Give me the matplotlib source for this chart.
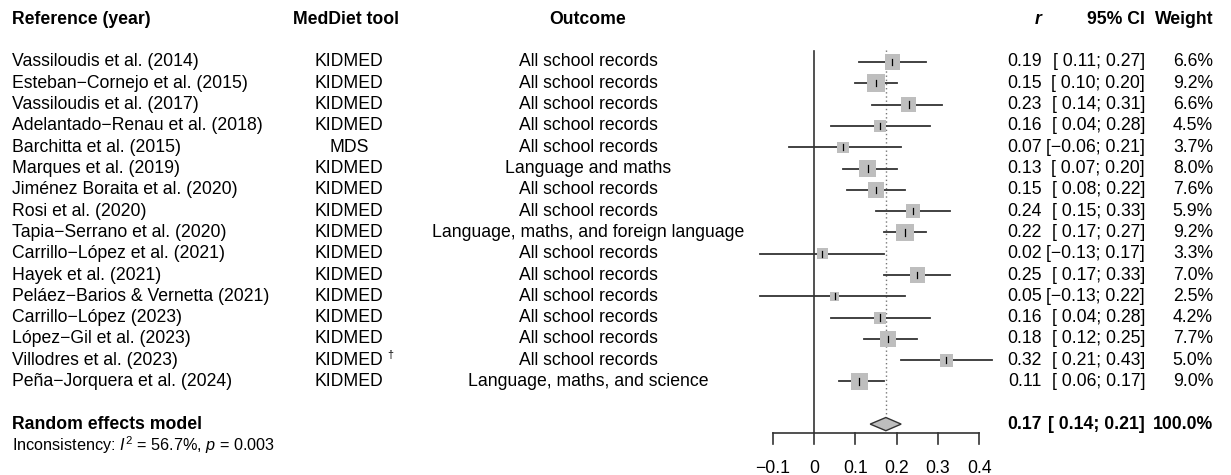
import numpy as np
import matplotlib
matplotlib.use("Agg")
import matplotlib.pyplot as plt
from matplotlib.patches import Rectangle, Polygon

plt.rcParams['font.family'] = ['Liberation Sans', 'DejaVu Sans']
plt.rcParams['mathtext.fontset'] = 'custom'
plt.rcParams['mathtext.rm'] = 'Liberation Sans'
plt.rcParams['mathtext.it'] = 'Liberation Sans:italic'
plt.rcParams['mathtext.bf'] = 'Liberation Sans:bold'

# study data
studies = ["Vassiloudis et al. (2014)", "Esteban\u2212Cornejo et al. (2015)",
           "Vassiloudis et al. (2017)", "Adelantado\u2212Renau et al. (2018)",
           "Barchitta et al. (2015)", "Marques et al. (2019)",
           "Jiménez Boraita et al. (2020)", "Rosi et al. (2020)",
           "Tapia\u2212Serrano et al. (2020)", "Carrillo\u2212López et al. (2021)",
           "Hayek et al. (2021)", "Peláez\u2212Barios & Vernetta (2021)",
           "Carrillo\u2212López (2023)", "López\u2212Gil et al. (2023)",
           "Villodres et al. (2023)", "Peña\u2212Jorquera et al. (2024)"]
tools = ["KIDMED", "KIDMED", "KIDMED", "KIDMED", "MDS", "KIDMED", "KIDMED", "KIDMED",
         "KIDMED", "KIDMED", "KIDMED", "KIDMED", "KIDMED", "KIDMED", "KIDMED", "KIDMED"]
dagger_rows = [14]
outcomes = ["All school records"] * 16
outcomes[5] = "Language and maths"
outcomes[8] = "Language, maths, and foreign language"
outcomes[15] = "Language, maths, and science"
r = [0.19, 0.15, 0.23, 0.16, 0.07, 0.13, 0.15, 0.24, 0.22, 0.02, 0.25, 0.05, 0.16, 0.18, 0.32, 0.11]
lo = [0.11, 0.10, 0.14, 0.04, -0.06, 0.07, 0.08, 0.15, 0.17, -0.13, 0.17, -0.13, 0.04, 0.12, 0.21, 0.06]
hi = [0.27, 0.20, 0.31, 0.28, 0.21, 0.20, 0.22, 0.33, 0.27, 0.17, 0.33, 0.22, 0.28, 0.25, 0.43, 0.17]
weight = [6.6, 9.2, 6.6, 4.5, 3.7, 8.0, 7.6, 5.9, 9.2, 3.3, 7.0, 2.5, 4.2, 7.7, 5.0, 9.0]

pooled_r, pooled_lo, pooled_hi = 0.174, 0.136, 0.211
pooled_label = ("0.17", "[ 0.14; 0.21]", "100.0%")
heterogeneity = r"Inconsistency: $I^2$ = 56.7%, $p$ = 0.003"
ticks = [-0.1, 0, 0.1, 0.2, 0.3, 0.4]

W, H = 1231, 475
x0_px, px_per_unit = 814, 413.0
y0_px, px_per_row = 62, 21.3

fig = plt.figure(figsize=(W / 100, H / 100), dpi=100)
ax = fig.add_axes([0, 0, 1, 1])
ax.set_xlim(-x0_px / px_per_unit, (W - x0_px) / px_per_unit)
ax.set_ylim((H - y0_px) / px_per_row, -y0_px / px_per_row)
ax.axis('off')

tr = ax.get_yaxis_transform()   # x in axes fraction, y in rows
fs = 12.7
col_ref, col_tool, col_out = 12 / W, 349 / W, 588 / W
col_r, col_ci, col_w = 1042 / W, 1145 / W, 1213 / W


def fmt(v):
    s = "%.2f" % v
    return s.replace("-", "\u2212") if v < 0 else " " + s


# headers
hy = -2
ax.text(col_ref, hy, "Reference (year)", transform=tr, ha='left', va='center', fontsize=fs, fontweight='bold')
ax.text(346 / W, hy, "MedDiet tool", transform=tr, ha='center', va='center', fontsize=fs, fontweight='bold')
ax.text(col_out, hy, "Outcome", transform=tr, ha='center', va='center', fontsize=fs, fontweight='bold')
ax.text(col_r, hy, "r", transform=tr, ha='right', va='center', fontsize=fs, fontweight='bold', fontstyle='italic')
ax.text(col_ci, hy, "95% CI", transform=tr, ha='right', va='center', fontsize=fs, fontweight='bold')
ax.text(col_w, hy, "Weight", transform=tr, ha='right', va='center', fontsize=fs, fontweight='bold')

for i in range(len(studies)):
    ax.text(col_ref, i, studies[i], transform=tr, ha='left', va='center', fontsize=fs)
    t = ax.text(col_tool, i, tools[i], transform=tr, ha='center', va='center', fontsize=fs)
    if i in dagger_rows:
        ax.annotate("\u2020", xy=(1, 1), xycoords=t, xytext=(3, 1), textcoords='offset points',
                    ha='left', va='top', fontsize=fs * 0.6)
    ax.text(col_out, i, outcomes[i], transform=tr, ha='center', va='center', fontsize=fs)
    ax.text(col_r, i, "%.2f" % r[i], transform=tr, ha='right', va='center', fontsize=fs)
    ax.text(col_ci, i, "[%s;%s]" % (fmt(lo[i]), fmt(hi[i])), transform=tr, ha='right', va='center', fontsize=fs)
    ax.text(col_w, i, "%.1f%%" % weight[i], transform=tr, ha='right', va='center', fontsize=fs)

    # CI line, box, tick
    ax.plot([lo[i], hi[i]], [i, i], color='#333333', lw=1.3, zorder=2)
    side = 5.84 * np.sqrt(weight[i])
    bw, bh = side / px_per_unit, side / px_per_row
    ax.add_patch(Rectangle((r[i] - bw / 2, i - bh / 2), bw, bh, facecolor='#bebebe',
                           edgecolor='none', zorder=3))
    ax.plot([r[i], r[i]], [i - 0.15, i + 0.15], color='black', lw=0.9, zorder=4)

# pooled row
py = 17
ax.text(col_ref, py, "Random effects model", transform=tr, ha='left', va='center', fontsize=fs, fontweight='bold')
ax.text(col_r, py, pooled_label[0], transform=tr, ha='right', va='center', fontsize=fs, fontweight='bold')
ax.text(col_ci, py, pooled_label[1], transform=tr, ha='right', va='center', fontsize=fs, fontweight='bold')
ax.text(col_w, py, pooled_label[2], transform=tr, ha='right', va='center', fontsize=fs, fontweight='bold')
ax.text(col_ref, 18, heterogeneity, transform=tr, ha='left', va='center', fontsize=11.7)

dh = 0.31
ax.add_patch(Polygon([[pooled_lo, py], [pooled_r, py - dh], [pooled_hi, py], [pooled_r, py + dh]],
                     closed=True, facecolor='#bebebe', edgecolor='#333333', lw=1.0, zorder=3))

# reference lines
ax.plot([0, 0], [-0.52, 17.43], color='#333333', lw=1.2, zorder=1)
ax.plot([pooled_r, pooled_r], [-0.55, py - dh], color='#777777', lw=1.0, ls=(0, (1, 2)), zorder=1)

# x axis
ax.plot([ticks[0], ticks[-1]], [17.43, 17.43], color='#333333', lw=1.2)
for tk in ticks:
    ax.plot([tk, tk], [17.43, 17.93], color='#333333', lw=1.2)
    lab = ("%g" % tk).replace("-", "\u2212")
    ax.text(tk, 19.1, lab, ha='center', va='center', fontsize=fs)

fig.savefig("out.png", dpi=100)
